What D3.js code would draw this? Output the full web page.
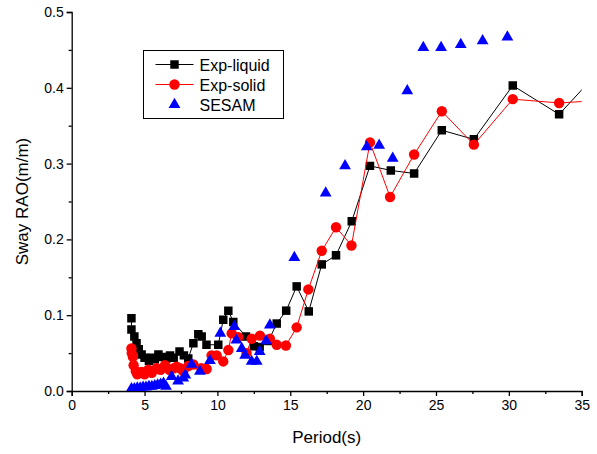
<!DOCTYPE html>
<html>
<head>
<meta charset="utf-8">
<script src="https://cdn.jsdelivr.net/npm/d3@7"></script>
<style>
  html, body { margin: 0; padding: 0; background: #fff; }
  svg { display: block; font-family: "Liberation Sans", Arial, sans-serif; }
</style>
</head>
<body>
<svg id="chart" width="597" height="454"></svg>
<script>
// Sway RAO versus wave period: two experiments and the SESAM prediction.
const periodLiquid = [4.1, 4.1, 4.3, 4.45, 4.6, 4.8, 5.0, 5.3, 5.5, 5.7, 5.95, 6.2, 6.5, 6.75, 7.0, 7.4, 7.7, 8.0, 8.35, 8.69, 8.92, 9.25, 10.06, 10.4, 10.75, 11.09, 11.96, 12.5, 12.9, 13.5, 14.07, 14.72, 15.44, 16.27, 17.16, 18.14, 19.22, 20.47, 21.9, 23.5, 25.4, 27.6, 30.27, 33.45, 36.0];
const raoLiquid    = [0.096, 0.081, 0.072, 0.063, 0.055, 0.048, 0.044, 0.040, 0.044, 0.042, 0.048, 0.045, 0.043, 0.047, 0.044, 0.052, 0.047, 0.043, 0.063, 0.075, 0.072, 0.061, 0.061, 0.094, 0.106, 0.091, 0.072, 0.059, 0.058, 0.066, 0.089, 0.106, 0.138, 0.105, 0.167, 0.179, 0.224, 0.297, 0.291, 0.287, 0.344, 0.332, 0.403, 0.365, 0.418];

const periodSolid  = [4.1, 4.12, 4.2, 4.25, 4.4, 4.5, 4.8, 5.0, 5.26, 5.5, 5.83, 6.1, 6.4, 6.7, 7.0, 7.2, 7.43, 7.66, 8.0, 8.35, 8.9, 9.26, 9.6, 9.95, 10.4, 10.75, 10.98, 11.43, 12.0, 12.35, 12.92, 13.6, 14.07, 14.7, 15.44, 16.24, 17.16, 18.14, 19.2, 20.47, 21.85, 23.5, 25.4, 27.6, 30.27, 33.45, 36.0];
const raoSolid     = [0.056, 0.050, 0.045, 0.034, 0.026, 0.022, 0.025, 0.022, 0.028, 0.024, 0.030, 0.028, 0.034, 0.028, 0.030, 0.032, 0.030, 0.026, 0.033, 0.035, 0.030, 0.029, 0.047, 0.047, 0.039, 0.054, 0.076, 0.071, 0.050, 0.069, 0.073, 0.069, 0.061, 0.060, 0.084, 0.134, 0.185, 0.216, 0.192, 0.328, 0.256, 0.312, 0.369, 0.325, 0.385, 0.380, 0.383];

const periodSesam  = [4.1, 4.3, 4.5, 4.7, 4.9, 5.1, 5.3, 5.5, 5.7, 5.9, 6.1, 6.3, 6.47, 6.86, 7.3, 7.66, 7.8, 8.23, 8.8, 9.49, 10.2, 11.16, 11.3, 11.67, 11.9, 12.35, 12.7, 12.9, 13.34, 13.6, 15.28, 17.43, 18.76, 20.25, 21.1, 22.03, 23.03, 24.13, 25.35, 26.7, 28.2, 29.9];
const raoSesam     = [0.003, 0.003, 0.004, 0.004, 0.005, 0.005, 0.006, 0.006, 0.007, 0.008, 0.009, 0.010, 0.006, 0.019, 0.013, 0.017, 0.021, 0.035, 0.026, 0.040, 0.076, 0.085, 0.067, 0.056, 0.047, 0.039, 0.039, 0.052, 0.066, 0.087, 0.176, 0.261, 0.297, 0.322, 0.324, 0.307, 0.396, 0.453, 0.453, 0.457, 0.462, 0.467];

const xTicks = [0, 5, 10, 15, 20, 25, 30, 35];
const yTicks = [0.0, 0.1, 0.2, 0.3, 0.4, 0.5];
const seriesNames = ["Exp-liquid", "Exp-solid", "SESAM"];

const zip = (xs, ys) => xs.map((x, i) => ({ x, y: ys[i] }));
const liquid = zip(periodLiquid, raoLiquid);
const solid = zip(periodSolid, raoSolid);
const sesam = zip(periodSesam, raoSesam);

const svg = d3.select("#chart");
const x = d3.scaleLinear().domain([0, 35]).range([71.7, 581.7]);
const y = d3.scaleLinear().domain([0, 0.5]).range([391, 12]);

svg.append("defs").append("clipPath").attr("id", "plot-clip")
  .append("rect")
  .attr("x", x(0)).attr("y", y(0.5) - 8)
  .attr("width", x(35) - x(0)).attr("height", y(0) - y(0.5) + 8);

// Axes: major ticks labelled, minor ticks half way between
const xAxis = d3.axisBottom(x).tickValues(xTicks).tickFormat(d3.format("d")).tickSize(5).tickPadding(4);
const xMinor = d3.axisBottom(x).tickValues(d3.range(2.5, 35, 5)).tickFormat("").tickSize(3);
const yAxis = d3.axisLeft(y).tickValues(yTicks).tickFormat(d3.format(".1f")).tickSize(5).tickPadding(3);
const yMinor = d3.axisLeft(y).tickValues(d3.range(0.05, 0.5, 0.1)).tickFormat("").tickSize(3);

function styleAxis(g) {
  g.select(".domain").attr("stroke", "#000").attr("stroke-width", 1.3);
  g.selectAll(".tick line").attr("stroke", "#000").attr("stroke-width", 1.3);
  g.selectAll(".tick text").attr("fill", "#000").attr("font-size", 14)
    .attr("font-family", "'Liberation Sans', Arial, sans-serif");
}

const gx = svg.append("g").attr("transform", `translate(0,${y(0)})`).call(xAxis).call(styleAxis);
svg.append("g").attr("transform", `translate(0,${y(0)})`).call(xMinor).call(styleAxis).select(".domain").remove();
const gy = svg.append("g").attr("transform", `translate(${x(0)},0)`).call(yAxis).call(styleAxis);
svg.append("g").attr("transform", `translate(${x(0)},0)`).call(yMinor).call(styleAxis).select(".domain").remove();

svg.append("text")
  .attr("x", (x(0) + x(35)) / 2).attr("y", 443)
  .attr("text-anchor", "middle").attr("font-size", 17).attr("fill", "#000")
  .text("Period(s)");
svg.append("text")
  .attr("transform", `translate(28,${(y(0) + y(0.5)) / 2}) rotate(-90)`)
  .attr("text-anchor", "middle").attr("font-size", 17).attr("fill", "#000")
  .text("Sway RAO(m/m)");

// Data layers
const plot = svg.append("g").attr("clip-path", "url(#plot-clip)");
const line = d3.line().x(d => x(d.x)).y(d => y(d.y));
const sq = d3.symbol().type(d3.symbolSquare).size(72);
const circ = d3.symbol().type(d3.symbolCircle).size(85);
const tri = d3.symbol().type(d3.symbolTriangle).size(60);

plot.append("path").datum(liquid).attr("d", line)
  .attr("fill", "none").attr("stroke", "#000").attr("stroke-width", 1);
plot.selectAll(".sq").data(liquid).join("path").attr("class", "sq")
  .attr("d", sq).attr("transform", d => `translate(${x(d.x)},${y(d.y)})`).attr("fill", "#000");

plot.append("path").datum(solid).attr("d", line)
  .attr("fill", "none").attr("stroke", "#ff0000").attr("stroke-width", 1);
plot.selectAll(".ci").data(solid).join("path").attr("class", "ci")
  .attr("d", circ).attr("transform", d => `translate(${x(d.x)},${y(d.y)})`).attr("fill", "#ff0000");

plot.selectAll(".tr").data(sesam).join("path").attr("class", "tr")
  .attr("d", tri).attr("transform", d => `translate(${x(d.x)},${y(d.y)})`).attr("fill", "#0000ff");

// Legend
const lg = svg.append("g").attr("transform", "translate(143.5,50.5)");
lg.append("rect").attr("width", 140).attr("height", 68)
  .attr("fill", "#fff").attr("stroke", "#000").attr("stroke-width", 1);
const legendItems = [
  { name: seriesNames[0], color: "#000", sym: sq, line: true },
  { name: seriesNames[1], color: "#ff0000", sym: circ, line: true },
  { name: seriesNames[2], color: "#0000ff", sym: tri, line: false }
];
legendItems.forEach((it, i) => {
  const cy = 14 + i * 20;
  if (it.line) {
    lg.append("line").attr("x1", 12).attr("x2", 50).attr("y1", cy).attr("y2", cy)
      .attr("stroke", it.color).attr("stroke-width", 1);
  }
  lg.append("path").attr("d", it.sym).attr("transform", `translate(31,${cy})`).attr("fill", it.color);
  lg.append("text").attr("x", 56).attr("y", cy + 6).attr("font-size", 16).attr("fill", "#000").text(it.name);
});
</script>
</body>
</html>
